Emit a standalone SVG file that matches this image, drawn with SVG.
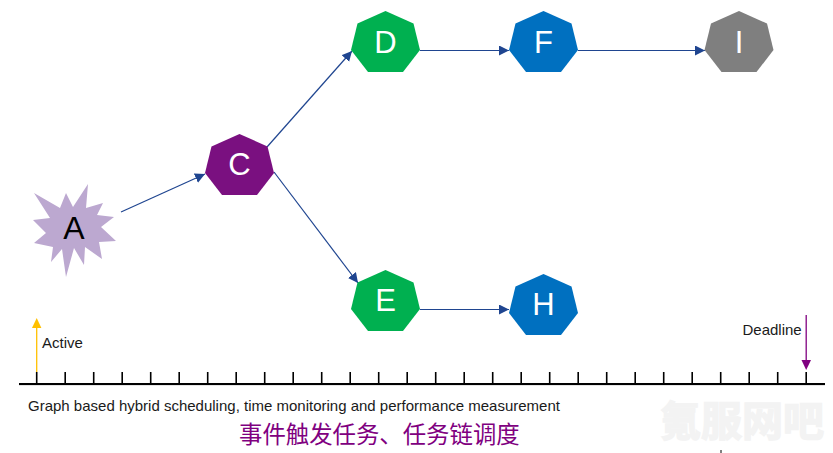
<svg xmlns="http://www.w3.org/2000/svg" width="833" height="453" viewBox="0 0 833 453">
<style>
text{font-family:"Liberation Sans",Arial,sans-serif}
.n{font-size:31px;text-anchor:middle;fill:#fff}
.l{font-size:15px;fill:#1a1a1a}
.c{stroke:#1F4590;stroke-width:1.2;fill:none;marker-end:url(#ah)}
.t{stroke:#000;stroke-width:1.6}
</style>
<defs>
<marker id="ah" markerUnits="userSpaceOnUse" markerWidth="12" markerHeight="12" refX="10" refY="5" orient="auto"><path d="M0 0L10 5L0 10Z" fill="#1F4590"/></marker>
<polygon id="h" points="0,0 28,12.5 34.5,39 17.5,61 -17.5,61 -34.500,39 -28,12.5"/>
</defs>
<rect width="833" height="453" fill="#fff"/>
<g id="connectors">
<path class="c" d="M121 212L205 174"/>
<path class="c" d="M267 147L352 51"/>
<path class="c" d="M274 172L358 283"/>
<path class="c" d="M420 50.5H509"/>
<path class="c" d="M578 50.5H705"/>
<path class="c" d="M420 309.5H509"/>
</g>
<g id="A"><polygon fill="#BCA8D0" points="88,184 86,208 103,203 97,215 114,217 101,227 116,241 99,242 102,259 85,247 84,265 74,248 66,277 62,249 51,262 53,247 34,243 46,233 33,220 50,218 34,193 60,208 66,193 73,207"/><text class="n" x="74" y="239" style="fill:#000;font-size:32px">A</text></g>
<g id="C"><use href="#h" x="239.500" y="134" fill="#7A1080"/><text class="n" x="239.500" y="175">C</text></g>
<g id="D"><use href="#h" x="385.500" y="11" fill="#00B050"/><text class="n" x="385.500" y="53">D</text></g>
<g id="E"><use href="#h" x="385.500" y="270" fill="#00B050"/><text class="n" x="385.500" y="311">E</text></g>
<g id="F"><use href="#h" x="543.500" y="11" fill="#0070C0"/><text class="n" x="543.500" y="53">F</text></g>
<g id="H"><use href="#h" x="543.500" y="274" fill="#0070C0"/><text class="n" x="543.500" y="315">H</text></g>
<g id="I"><use href="#h" x="739" y="11" fill="#7F7F7F"/><text class="n" x="739" y="53">I</text></g>
<g id="timeline">
<path d="M19 385H825" stroke="#ccc" stroke-width="1"/>
<path d="M19 384H825" stroke="#000" stroke-width="2"/>
<path class="t" d="M36.700 372v12M65.200 372v12M93.700 372v12M122.200 372v12M150.700 372v12M179.200 372v12M207.700 372v12M236.200 372v12M264.700 372v12M293.200 372v12M321.700 372v12M350.200 372v12M378.700 372v12M407.200 372v12M435.700 372v12M464.200 372v12M492.700 372v12M521.200 372v12M549.700 372v12M578.200 372v12M606.700 372v12M635.200 372v12M663.700 372v12M692.200 372v12M720.700 372v12M749.200 372v12M777.700 372v12M806.200 372v12"/>
<path d="M36.700 372V326" stroke="#FFC000" stroke-width="1.300"/><path d="M32 328L36.700 318L41.400 328Z" fill="#FFC000"/>
<path d="M806.200 315V362" stroke="#800080" stroke-width="1.300"/><path d="M801.500 360L806.200 370L811 360Z" fill="#800080"/>
<path d="M721 450V453" stroke="#000" stroke-width="1"/>
</g>
<text class="l" x="42" y="348">Active</text>
<text class="l" x="742.500" y="335">Deadline</text>
<text x="28" y="411" style="font-size:15px;fill:#1a1a1a">Graph based hybrid scheduling, time monitoring and performance measurement</text>
<text x="239" y="443" style="font-family:'Noto Sans CJK SC',sans-serif;font-size:23.400px;fill:#800080">事件触发任务、任务链调度</text>
<text x="660" y="436" style="font-family:'Noto Sans CJK SC',sans-serif;font-size:41px;font-weight:700;fill:#f3f3f3;stroke:#f3f3f3;stroke-width:1.500">氪服网吧</text>
</svg>
